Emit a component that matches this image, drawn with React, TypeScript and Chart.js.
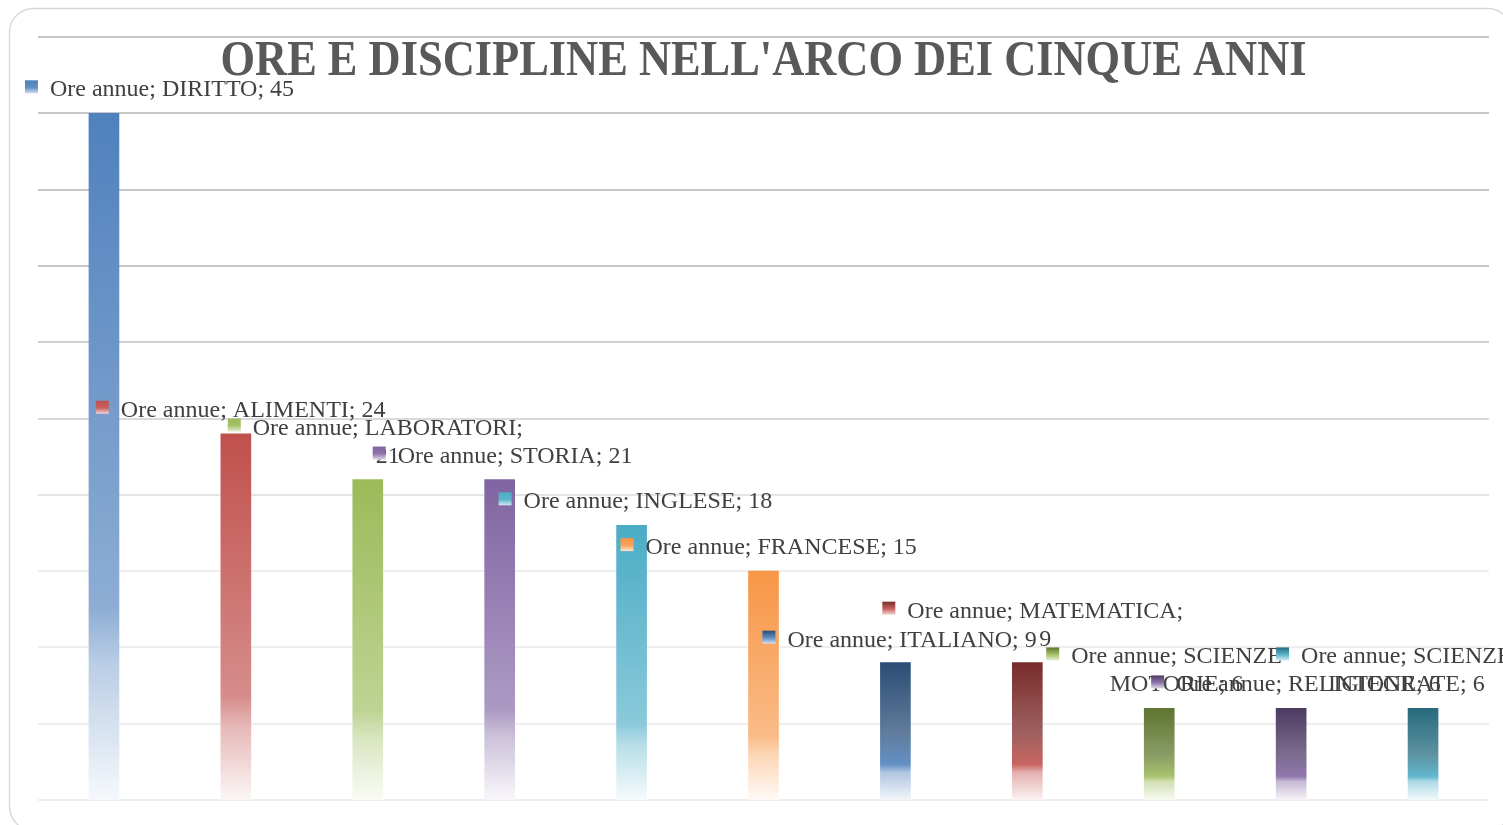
import React, { useEffect, useRef } from "react";
import { Chart, registerables } from "chart.js";

Chart.register(...registerables);

// ---------------- data ----------------
const TITLE = "ORE E DISCIPLINE NELL'ARCO DEI CINQUE ANNI";
const SERIES_NAME = "Ore annue";
const CATEGORIES = [
  "DIRITTO",
  "ALIMENTI",
  "LABORATORI",
  "STORIA",
  "INGLESE",
  "FRANCESE",
  "ITALIANO",
  "MATEMATICA",
  "SCIENZE MOTORIE",
  "RELIGIONE",
  "SCIENZE INTEGRATE",
];
const HOURS = [45, 24, 21, 21, 18, 15, 9, 9, 6, 6, 6];
const Y_MIN = 0;
const Y_MAX = 50;
const Y_STEP = 5;

// ---------------- styles ----------------
const TOP_COLORS = [
  "#4F81BD", "#C0504D", "#9BBB59", "#8064A2", "#4BACC6", "#F79646",
  "#2C4D75", "#772C2A", "#5F7530", "#4D3B62", "#276A7C",
];
const BASE_COLORS = [
  "#4F81BD", "#C0504D", "#9BBB59", "#8064A2", "#4BACC6", "#F79646",
  "#4F81BD", "#C0504D", "#9BBB59", "#8064A2", "#4BACC6",
];
// label placement relative to bar (dx: key-square left minus bar centre, dy: first line centre minus bar top)
const LABEL_OFFSETS: [number, number][] = [
  [-79, -25], [-140, -25], [-140, -53], [-127, -25], [-133, -25], [-143, -25],
  [-133, -24], [-145, -53], [-113, -53], [-140, -25], [-147, -53],
];
const LABEL_FONT = "24px 'Liberation Serif', 'Times New Roman', serif";
const TITLE_FONT = "bold 50px 'Liberation Serif', 'Times New Roman', serif";
const LABEL_MAX_WIDTH = 280;
const LINE_HEIGHT = 28;

type RGB = [number, number, number];
function hexToRgb(h: string): RGB {
  const s = h.replace("#", "");
  return [parseInt(s.slice(0, 2), 16), parseInt(s.slice(2, 4), 16), parseInt(s.slice(4, 6), 16)];
}
function mixRgb(a: RGB, b: RGB, t: number): RGB {
  return [a[0] + (b[0] - a[0]) * t, a[1] + (b[1] - a[1]) * t, a[2] + (b[2] - a[2]) * t];
}
function css(c: RGB) {
  return `rgb(${Math.round(c[0])},${Math.round(c[1])},${Math.round(c[2])})`;
}
const WHITE: RGB = [255, 255, 255];
const GRAY: RGB = [160, 160, 160];

function barGradient(ctx: CanvasRenderingContext2D, top: number, bottom: number, i: number) {
  const g = ctx.createLinearGradient(0, top, 0, bottom);
  const C = hexToRgb(BASE_COLORS[i]);
  const D = hexToRgb(TOP_COLORS[i]);
  if (BASE_COLORS[i] === TOP_COLORS[i]) {
    g.addColorStop(0, css(C));
    g.addColorStop(0.72, css(mixRgb(C, WHITE, 0.35)));
    g.addColorStop(0.8, css(mixRgb(C, WHITE, 0.6)));
    g.addColorStop(1, css(mixRgb(C, WHITE, 0.95)));
  } else {
    g.addColorStop(0, css(D));
    g.addColorStop(0.5, css(mixRgb(mixRgb(D, C, 0.5), GRAY, 0.35)));
    g.addColorStop(0.74, css(mixRgb(C, WHITE, 0.12)));
    g.addColorStop(0.8, css(mixRgb(C, WHITE, 0.55)));
    g.addColorStop(1, css(mixRgb(C, WHITE, 0.93)));
  }
  return g;
}

function wrapText(ctx: CanvasRenderingContext2D, text: string, maxW: number): string[] {
  const words = text.split(" ");
  const lines: string[] = [];
  let cur = "";
  for (const w of words) {
    const test = cur ? cur + " " + w : w;
    if (cur && ctx.measureText(test).width > maxW) {
      lines.push(cur);
      cur = w;
    } else {
      cur = test;
    }
  }
  if (cur) lines.push(cur);
  return lines;
}

const framePlugin = {
  id: "frame",
  beforeDraw(chart: any) {
    const { ctx, width, height } = chart;
    ctx.save();
    ctx.fillStyle = "#ffffff";
    ctx.fillRect(0, 0, width, height);
    ctx.strokeStyle = "#d9d9d9";
    ctx.lineWidth = 1.5;
    ctx.beginPath();
    (ctx as any).roundRect(9.5, 8.5, 1502, 822, 24);
    ctx.stroke();
    ctx.restore();
  },
};

const gridPlugin = {
  id: "customGrid",
  beforeDatasetsDraw(chart: any) {
    const { ctx, chartArea, scales } = chart;
    const y = scales.y;
    ctx.save();
    ctx.lineWidth = 2;
    for (let v = Y_MIN; v <= Y_MAX; v += Y_STEP) {
      const py = Math.round(y.getPixelForValue(v));
      const g = Math.max(198, Math.min(238, 198 + (35 - v) * 2));
      ctx.strokeStyle = `rgb(${g},${g},${g})`;
      ctx.beginPath();
      ctx.moveTo(chartArea.left, py);
      ctx.lineTo(chartArea.right, py);
      ctx.stroke();
    }
    ctx.restore();
  },
};

const textPlugin = {
  id: "texts",
  afterDatasetsDraw(chart: any) {
    const { ctx, chartArea } = chart;
    ctx.save();
    // title
    ctx.font = TITLE_FONT;
    ctx.fillStyle = "#595959";
    ctx.textAlign = "center";
    ctx.textBaseline = "alphabetic";
    const tw = ctx.measureText(TITLE).width;
    const sx = 1086 / tw;
    ctx.save();
    ctx.translate((chartArea.left + chartArea.right) / 2, 75);
    ctx.scale(sx, 1);
    ctx.fillText(TITLE, 0, 0);
    ctx.restore();

    // data labels
    const meta = chart.getDatasetMeta(0);
    ctx.font = LABEL_FONT;
    ctx.textBaseline = "alphabetic";
    ctx.textAlign = "center";
    meta.data.forEach((bar: any, i: number) => {
      const text = `${SERIES_NAME}; ${CATEGORIES[i]}; ${HOURS[i]}`;
      const lines = wrapText(ctx, text, LABEL_MAX_WIDTH);
      const blockW = Math.max(...lines.map((l) => ctx.measureText(l).width));
      const [dx, dy] = LABEL_OFFSETS[i];
      const sqX = bar.x + dx;
      const cy = bar.y + dy;
      const C = hexToRgb(BASE_COLORS[i]);
      const D = hexToRgb(TOP_COLORS[i]);
      const kg = ctx.createLinearGradient(0, cy - 8, 0, cy + 5);
      kg.addColorStop(0, css(D));
      kg.addColorStop(0.55, css(mixRgb(C, WHITE, 0.1)));
      kg.addColorStop(1, css(mixRgb(C, WHITE, 0.75)));
      ctx.fillStyle = kg;
      ctx.fillRect(sqX, cy - 8, 13, 13);
      ctx.fillStyle = "#404040";
      const tx = sqX + 25 + blockW / 2;
      lines.forEach((ln, k) => {
        ctx.fillText(ln, tx, cy + 8 + k * LINE_HEIGHT);
      });
    });
    ctx.restore();
  },
};

export default function App() {
  const ref = useRef<HTMLCanvasElement | null>(null);
  useEffect(() => {
    if (!ref.current) return;
    const chart = new Chart(ref.current, {
      type: "bar",
      data: {
        labels: CATEGORIES,
        datasets: [
          {
            label: SERIES_NAME,
            data: HOURS,
            barThickness: 30,
            borderWidth: 0,
            backgroundColor: (c: any) => {
              const ch = c.chart;
              if (!ch.chartArea || c.dataIndex === undefined) return TOP_COLORS[0];
              const y = ch.scales.y;
              const top = y.getPixelForValue(HOURS[c.dataIndex]);
              const bottom = y.getPixelForValue(0);
              return barGradient(ch.ctx, top, bottom, c.dataIndex);
            },
          },
        ],
      },
      options: {
        responsive: false,
        animation: false,
        devicePixelRatio: 1,
        layout: { padding: { left: 38, right: 14, top: 37, bottom: 25 } },
        scales: {
          x: { display: false },
          y: { display: false, min: Y_MIN, max: Y_MAX },
        },
        plugins: {
          legend: { display: false },
          tooltip: { enabled: false },
          title: { display: false },
        },
      },
      plugins: [framePlugin, gridPlugin, textPlugin],
    });
    return () => chart.destroy();
  }, []);
  return (
    <div style={{ position: "fixed", left: 0, top: 0, width: 1503, height: 825, background: "#fff" }}>
      <canvas ref={ref} width={1503} height={825} style={{ display: "block" }} />
    </div>
  );
}
